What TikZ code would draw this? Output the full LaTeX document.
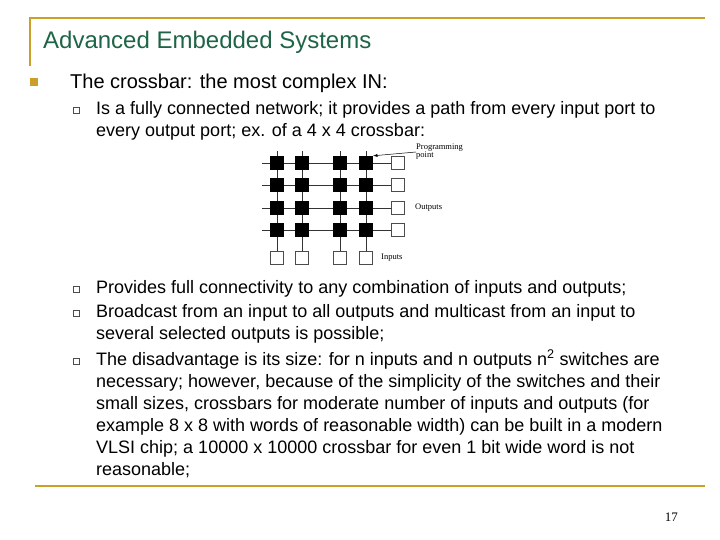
\documentclass[tikz,border=0pt]{standalone}
\usepackage{fontspec}
\setmainfont{Liberation Sans}
\newfontfamily\serifnum{Liberation Serif}
\definecolor{gold}{RGB}{204,160,40}
\definecolor{ttl}{RGB}{30,100,70}
\begin{document}
\begin{tikzpicture}[x=1pt,y=-1pt,
 body/.style={anchor=base west,inner sep=0,font=\fontsize{18}{22}\selectfont},
 sb/.style={draw=black!70,line width=0.5pt,minimum size=6pt,inner sep=0},
 sw/.style={fill=black,minimum size=14pt,inner sep=0},
 port/.style={draw=black!70,fill=white,minimum size=13pt,inner sep=0},
 lab/.style={anchor=west,inner sep=0,font=\serifnum\fontsize{8.5}{8}\selectfont}]
\useasboundingbox (0,0) rectangle (720,540);
\draw[gold,line width=2pt] (30,18) -- (705,18) (30,17) -- (30,66);
\draw[gold,line width=2pt] (35,486) -- (705,486);
\node[anchor=base west,inner sep=0,text=ttl,font=\fontsize{24}{24}\selectfont] (t) at (43,49) {Advanced Embedded Systems};
\node[fill=gold,minimum size=8pt,inner sep=0] (b0) at (34,82) {};
\node[anchor=base west,inner sep=0,font=\fontsize{20}{22}\selectfont] (l0) at (70,89) {The crossbar: the most complex IN:};
\foreach \y/\n in {110/s1,289/s2,313/s3,361/s4} \node[sb] (\n) at (76,\y) {};
\node[body] (l1) at (96,115) {Is a fully connected network; it provides a path from every input port to};
\node[body] (l2) at (96,137) {every output port; ex. of a 4 x 4 crossbar:};
\node[body] (l3) at (96,293) {Provides full connectivity to any combination of inputs and outputs;};
\node[body] (l4) at (96,317) {Broadcast from an input to all outputs and multicast from an input to};
\node[body] (l5) at (96,339) {several selected outputs is possible;};
\node[body] (l6) at (96,365) {The disadvantage is its size: for n inputs and n outputs n\textsuperscript{2} switches are};
\node[body] (l7) at (96,387) {necessary; however, because of the simplicity of the switches and their};
\node[body] (l8) at (96,409) {small sizes, crossbars for moderate number of inputs and outputs (for};
\node[body] (l9) at (96,431) {example 8 x 8 with words of reasonable width) can be built in a modern};
\node[body] (l10) at (96,453) {VLSI chip; a 10000 x 10000 crossbar for even 1 bit wide word is not};
\node[body] (l11) at (96,475) {reasonable;};
\node[anchor=base east,inner sep=0,font=\serifnum\fontsize{13}{13}\selectfont] (pg) at (678,521) {17};
% crossbar
\foreach \r/\y in {1/163,2/185,3/208,4/230}{
  \coordinate (hl\r) at (262,\y);
  \node[port] (o\r) at (398,\y) {};
  \draw[black!80,line width=0.8pt] (hl\r) -- (o\r);}
\foreach \c/\x in {1/277,2/302,3/340,4/366}{
  \coordinate (vt\c) at (\x,151);
  \node[port] (i\c) at (\x,258) {};
  \draw[black!80,line width=0.8pt] (vt\c) -- (i\c);
  \foreach \r/\y in {1/163,2/185,3/208,4/230}
    \node[sw] (x\c\r) at (\x,\y) {};}
\node[lab,align=left] (pp) at (416,152) {Programming\\point};
\node[lab] (ou) at (415,208) {Outputs};
\node[lab] (in) at (381,258) {Inputs};
\draw[-latex,line width=0.5pt] (pp.west) -- (x41.north east);
\end{tikzpicture}
\end{document}
